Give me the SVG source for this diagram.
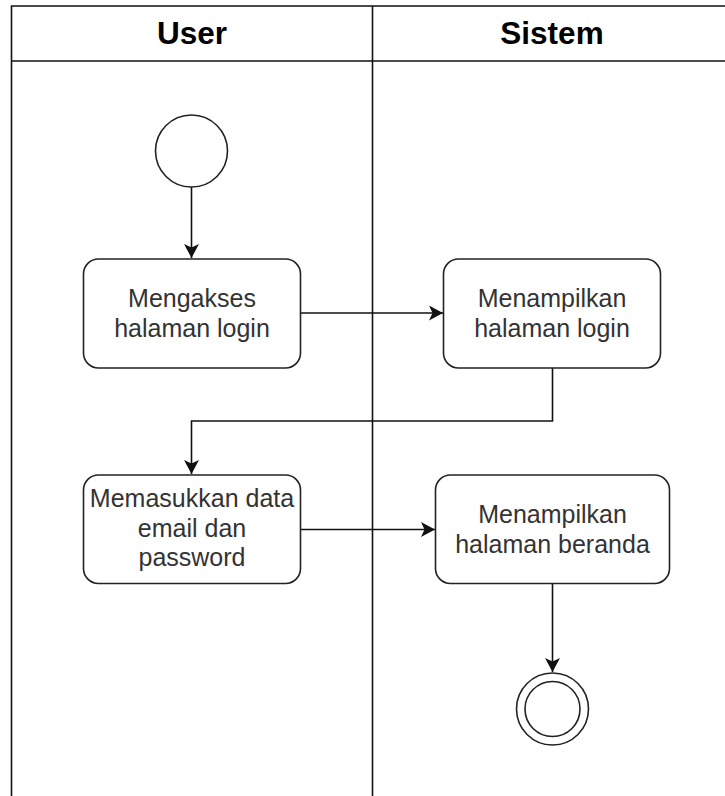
<svg xmlns="http://www.w3.org/2000/svg" width="725" height="796" viewBox="0 0 725 796">
  <style>
    .lane { fill: none; stroke: #111; stroke-width: 1.6; }
    .head { font-family: "Liberation Sans", Arial, sans-serif; font-size: 31.5px; font-weight: bold; fill: #000; text-anchor: middle; }
    .act rect { fill: #fff; stroke: #222; stroke-width: 1.6; }
    .act text { font-family: "Liberation Sans", Arial, sans-serif; font-size: 25px; fill: #333; text-anchor: middle; }
    .state { fill: #fff; stroke: #222; stroke-width: 1.6; }
    .edge { fill: none; stroke: #111; stroke-width: 1.6; }
  </style>
  <defs>
    <marker id="arrow" markerUnits="userSpaceOnUse" markerWidth="15" markerHeight="16" refX="14" refY="7.5" orient="auto">
      <path d="M0,0 L14,7.5 L0,15 L3.5,7.5 Z" fill="#111"/>
    </marker>
  </defs>

  <rect width="725" height="796" fill="#fff"/>

  <!-- swimlane pool -->
  <g id="lanes">
    <path class="lane" d="M11.5,800 V6 H740 M11.5,61 H740 M372.5,6 V800"/>
    <text class="head" x="192" y="44">User</text>
    <text class="head" x="552" y="44">Sistem</text>
  </g>

  <!-- connectors -->
  <g id="connectors">
    <path class="edge" d="M191.5,187 V258" marker-end="url(#arrow)"/>
    <path class="edge" d="M300.5,313 H443" marker-end="url(#arrow)"/>
    <path class="edge" d="M552.5,368 V421 H191.5 V474" marker-end="url(#arrow)"/>
    <path class="edge" d="M300.5,529.5 H435" marker-end="url(#arrow)"/>
    <path class="edge" d="M552.5,583.5 V672" marker-end="url(#arrow)"/>
  </g>

  <g id="start">
    <circle class="state" cx="191.5" cy="151" r="36"/>
  </g>

  <g id="akses-login" class="act">
    <rect x="83.5" y="259" width="217" height="109" rx="15"/>
    <text x="192" y="307">Mengakses</text>
    <text x="192" y="337">halaman login</text>
  </g>

  <g id="tampil-login" class="act">
    <rect x="443.5" y="259" width="217" height="109" rx="15"/>
    <text x="552" y="307">Menampilkan</text>
    <text x="552" y="337">halaman login</text>
  </g>

  <g id="input-data" class="act">
    <rect x="83.5" y="475" width="217" height="108.5" rx="15"/>
    <text x="192" y="507">Memasukkan data</text>
    <text x="192" y="537">email dan</text>
    <text x="192" y="566">password</text>
  </g>

  <g id="tampil-beranda" class="act">
    <rect x="435.5" y="475" width="234" height="108.5" rx="15"/>
    <text x="552.5" y="523">Menampilkan</text>
    <text x="552.5" y="553">halaman beranda</text>
  </g>

  <g id="end">
    <circle class="state" cx="552.5" cy="709" r="36"/>
    <circle class="state" cx="552.5" cy="709" r="27.5"/>
  </g>
</svg>
